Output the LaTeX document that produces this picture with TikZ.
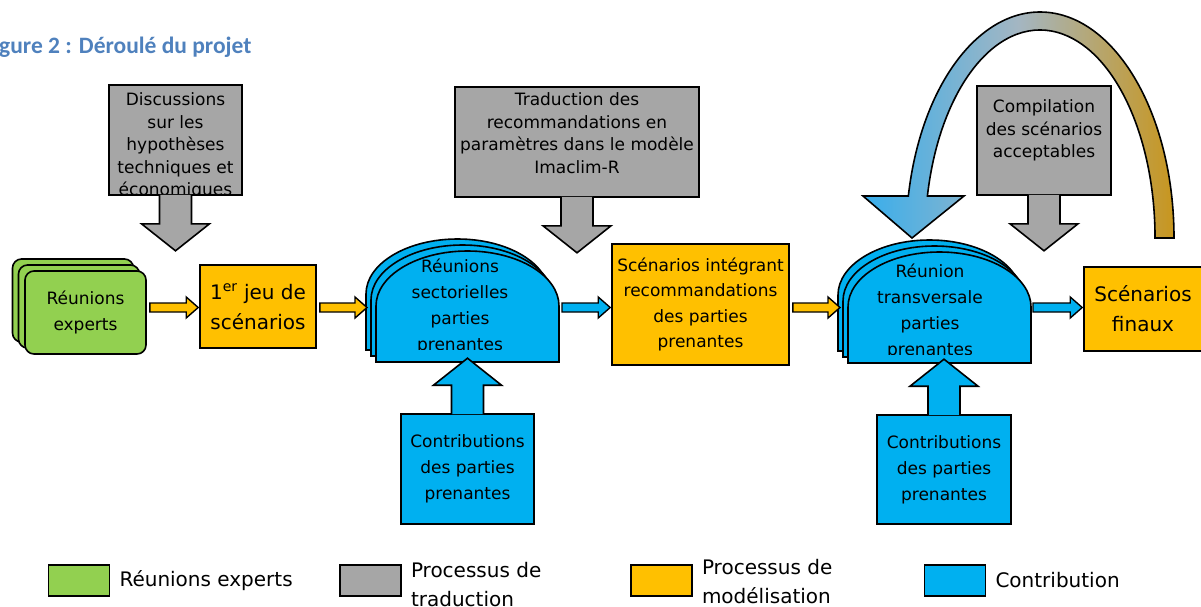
\documentclass[tikz,border=0pt]{standalone}
\usepackage{fontspec}
\setmainfont{DejaVu Sans}
\newfontfamily\titlefont{Carlito}
\usetikzlibrary{positioning}
\usetikzlibrary{calc}

\definecolor{expgreen}{HTML}{92D050}
\definecolor{modorange}{HTML}{FFC000}
\definecolor{tradgray}{HTML}{A6A6A6}
\definecolor{contribblue}{HTML}{00B0F0}
\definecolor{titleblue}{HTML}{4F81BD}
\definecolor{loopblue}{HTML}{38AEEC}
\definecolor{loopgray}{HTML}{A4B6C2}
\definecolor{loopgold}{HTML}{C8961E}

\tikzset {
  block line/.style = {
    draw = black,
    line width = 1.6pt
  },
  block/.style = {
    block line,
    inner sep = 0,
    align = center,
    font = {\fontsize{17}{26}\selectfont}
  },
  % stacked cards of the expert meetings
  expert box/.style = {
    block,
    fill = expgreen,
    rounded corners = 9pt,
    minimum width = 121pt,
    minimum height = 83pt,
    font = {\fontsize{17}{25.5}\selectfont}
  },
  % modelling step
  model box/.style = {
    block,
    fill = modorange
  },
  % translation step, text placed apart
  trad box/.style = {
    block,
    fill = tradgray
  },
  trad text/.style = {
    inner sep = 0,
    align = center,
    font = {\fontsize{17}{22.5}\selectfont}
  },
  contrib box/.style = {
    block,
    fill = contribblue,
    minimum width = 133pt,
    minimum height = 110pt
  },
  dome/.style = {
    block line,
    fill = contribblue
  },
  dome text/.style = {
    inner sep = 0,
    align = center,
    font = {\fontsize{17}{26}\selectfont}
  },
  flow arrow/.style = {
    block line,
    line width = 1.4pt
  },
  caption text/.style = {
    inner sep = 0,
    text = titleblue,
    font = {\titlefont\bfseries\fontsize{23.5}{26}\selectfont}
  },
  legend box/.style = {
    block line,
    inner sep = 0,
    minimum width = 61pt,
    minimum height = 31pt
  },
  legend text/.style = {
    inner sep = 0,
    align = left,
    anchor = west,
    font = {\fontsize{20}{29}\selectfont}
  },
  node distance = 9pt
}

% block arrow along the main flow line
\newcommand{\flowarrow}[3]{%
  \draw[flow arrow, fill = #1]
    let \p1 = ($(#2 |- flow) + (3,0)$), \p2 = ($(#3 |- flow) + (-1,0)$) in
    (\x1, \y1 + 4.5pt) -- (\x2 - 12pt, \y1 + 4.5pt) -- (\x2 - 12pt, \y1 + 10.5pt)
    -- (\x2, \y1) -- (\x2 - 12pt, \y1 - 10.5pt) -- (\x2 - 12pt, \y1 - 4.5pt)
    -- (\x1, \y1 - 4.5pt) -- cycle;
}
% arrow hanging under a box
\newcommand{\pointdown}[2]{%
  \draw[block line, fill = #2]
    ($(#1.south) + (-16,-1)$) -- ++(0,29) -- ++(-18,0)
    -- ($(#1.south) + (0,55)$)
    -- ($(#1.south) + (34,28)$) -- ++(-18,0)
    -- ($(#1.south) + (16,-1)$);
}
% arrow rising from a box
\newcommand{\pointup}[2]{%
  \draw[block line, fill = #2]
    ($(#1.north) + (-16,1)$) -- ++(0,-29) -- ++(-18,0)
    -- ($(#1.north) + (0,-55)$)
    -- ($(#1.north) + (34,-28)$) -- ++(-18,0)
    -- ($(#1.north) + (16,1)$);
}
% one card of a meeting stack
\newcommand{\domelayer}[2]{%
  \draw[dome] (#1,#2) -- ++(0,-56)
    arc[start angle = 180, end angle = 0, x radius = 91.5pt, y radius = 55pt]
    -- ++(0,56) -- cycle;
}

\begin{document}
\begin{tikzpicture}[x = 1pt, y = -1pt]
  \useasboundingbox (0,0) rectangle (1201,606);
  \coordinate (flow) at (0,307.5);

  \node[caption text, anchor = base west] (caption) at (-1,53) {gure 2 : Déroulé du projet};

  % expert meetings
  \node[expert box] (experts3) at (73,300.5) {};
  \node[expert box] (experts2) at (79,306.5) {};
  \node[expert box] (experts) at (85.5,312.5) {Réunions\\experts};

  \node[model box, minimum width = 116pt, minimum height = 83pt,
    font = {\fontsize{20}{30}\selectfont}] (jeu) at (258,306.5)
    {1\textsuperscript{er} jeu de\\scénarios};

  % sector meetings
  \domelayer{366}{350}
  \domelayer{371}{356}
  \domelayer{376}{362}
  \coordinate (sect-in) at (368,307.5);
  \coordinate (sect-out) at (559,307.5);
  \begin{scope}
    \clip (366,230) rectangle (560,349.5);
    \node[dome text] (sect) at (460,306) {Réunions\\sectorielles\\parties\\prenantes};
  \end{scope}

  \node[model box, minimum width = 177pt, minimum height = 121pt,
    font = {\fontsize{17}{25.5}\selectfont}] (scen) at (700.5,304.5)
    {Scénarios intégrant\\recommandations\\des parties\\prenantes};

  % cross meeting
  \domelayer{838}{351}
  \domelayer{843}{357}
  \domelayer{848}{363}
  \coordinate (trans-in) at (841,307.5);
  \coordinate (trans-out) at (1030,307.5);
  \begin{scope}
    \clip (838,230) rectangle (1031,354);
    \node[dome text] (trans) at (930,311.5) {Réunion\\transversale\\parties\\prenantes};
  \end{scope}

  \node[model box, minimum width = 118pt, minimum height = 84pt,
    font = {\fontsize{20}{30}\selectfont}] (final) at (1143,309)
    {Scénarios\\finaux};

  \flowarrow{modorange}{experts.east}{jeu.west}
  \flowarrow{modorange}{jeu.east}{sect-in}
  \flowarrow{contribblue}{sect-out}{scen.west}
  \flowarrow{modorange}{scen.east}{trans-in}
  \flowarrow{contribblue}{trans-out}{final.west}

  % translation steps
  \node[trad box, minimum width = 133pt, minimum height = 110pt] (disc) at (175.5,140) {};
  \begin{scope}
    \clip (disc.north west) rectangle (disc.south east);
    \node[trad text] (disc-text) at ($(disc.center) + (0,6.3)$)
      {Discussions\\sur les\\hypothèses\\techniques et\\économiques};
  \end{scope}
  \pointdown{disc}{tradgray}

  \node[trad box, minimum width = 244pt, minimum height = 110pt] (trad) at (577,142) {};
  \node[trad text] (trad-text) at ($(trad.center) + (0,-9)$)
    {Traduction des\\recommandations en\\paramètres dans le modèle\\Imaclim-R};
  \pointdown{trad}{tradgray}

  \node[trad box, minimum width = 134pt, minimum height = 109pt] (comp) at (1044,140.5) {};
  \node[trad text] (comp-text) at ($(comp.center) + (0,-10)$)
    {Compilation\\des scénarios\\acceptables};
  \pointdown{comp}{tradgray}

  % contributions
  \node[contrib box] (contrib1) at (467.5,469) {Contributions\\des parties\\prenantes};
  \pointup{contrib1}{contribblue}
  \node[contrib box, minimum width = 134pt, minimum height = 109pt] (contrib2) at (944,469.5)
    {Contributions\\des parties\\prenantes};
  \pointup{contrib2}{contribblue}

  % loop back from the final scenarios
  \draw[block line, left color = loopblue, right color = loopgold, middle color = loopgray]
    (1174,238) arc[start angle = 0, end angle = 169.3, x radius = 134pt, y radius = 226pt]
    -- (863,196) -- (912,238) -- (964,196) -- (927.4,196)
    arc[start angle = 168.35, end angle = 0, x radius = 115pt, y radius = 208pt]
    -- cycle;

  % legend
  \node[legend box, fill = expgreen] (leg-exp) at (79,580.5) {};
  \node[legend text] (leg-exp-text) [right=of leg-exp] {Réunions experts};
  \node[legend box, fill = tradgray] (leg-trad) at (370.5,580.5) {};
  \node[legend text] (leg-trad-text) [right=of leg-trad, yshift = -4pt] {Processus de\\traduction};
  \node[legend box, fill = modorange] (leg-mod) at (661.5,580.5) {};
  \node[legend text] (leg-mod-text) [right=of leg-mod, yshift = -1pt] {Processus de\\modélisation};
  \node[legend box, fill = contribblue] (leg-contrib) at (955,580.5) {};
  \node[legend text] (leg-contrib-text) [right=of leg-contrib] {Contribution};
\end{tikzpicture}
\end{document}
